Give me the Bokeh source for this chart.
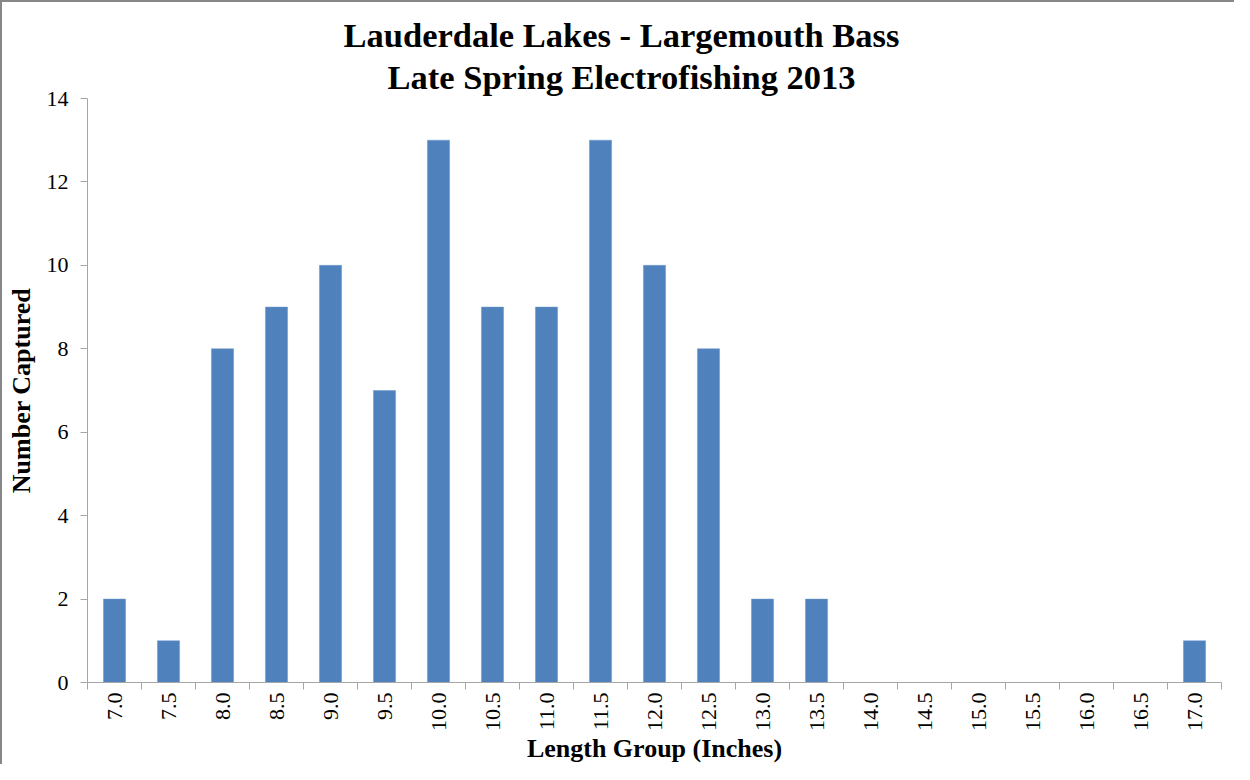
import math
from bokeh.plotting import figure
from bokeh.models import ColumnDataSource, FixedTicker, Range1d, Title
from bokeh.embed import file_html
from bokeh.resources import INLINE

# ---- data ----
length_groups = ["7.0", "7.5", "8.0", "8.5", "9.0", "9.5", "10.0", "10.5", "11.0",
                 "11.5", "12.0", "12.5", "13.0", "13.5", "14.0", "14.5", "15.0",
                 "15.5", "16.0", "16.5", "17.0"]
counts = [2, 1, 8, 9, 10, 7, 13, 9, 9, 13, 10, 8, 2, 2, 0, 0, 0, 0, 0, 0, 1]
y_ticks = [0, 2, 4, 6, 8, 10, 12, 14]
title_line1 = "Lauderdale Lakes - Largemouth Bass"
title_line2 = "Late Spring Electrofishing 2013"
x_label = "Length Group (Inches)"
y_label = "Number Captured"

FONT = "Liberation Serif"
AXIS_COLOR = "#A6A6A6"
BAR_COLOR = "#4F81BD"

FRAME_W = 1134
FRAME_H = 585
TOP = 96
LEFT = 85

n = len(length_groups)
positions = list(range(n))
src = ColumnDataSource(dict(x=positions, top=counts, label=length_groups))

p = figure(width=1234, height=764, output_backend="svg", toolbar_location=None,
           title=None,
           x_range=Range1d(-0.5, n - 0.5), y_range=Range1d(0, 14),
           min_border_left=LEFT, min_border_right=1234 - LEFT - FRAME_W,
           min_border_top=TOP, min_border_bottom=764 - TOP - FRAME_H)

p.vbar(x="x", top="top", width=0.41, source=src, fill_color=BAR_COLOR,
       line_color="#6E96C8", line_width=0.5)

# two-line title (first added sits nearest the frame); left-aligned with offsets
# so that both lines are centred on the whole chart area
p.add_layout(Title(text=title_line2, align="left", offset=300, standoff=5,
                   text_font=FONT, text_font_size="34.5px", text_font_style="bold",
                   text_color="black"), "above")
p.add_layout(Title(text=title_line1, align="left", offset=256, standoff=0,
                   text_font=FONT, text_font_size="34.5px", text_font_style="bold",
                   text_color="black"), "above")

# x axis: labels at centers, ticks at category boundaries (minor ticks)
xa = p.xaxis[0]
xa.ticker = FixedTicker(ticks=positions, minor_ticks=[i - 0.5 for i in range(n + 1)])
xa.major_label_overrides = {i: lab for i, lab in enumerate(length_groups)}
xa.major_label_orientation = math.pi / 2
xa.major_tick_line_color = None
xa.minor_tick_line_color = AXIS_COLOR
xa.minor_tick_out = 7
xa.minor_tick_in = 0
xa.axis_line_color = AXIS_COLOR
xa.major_label_text_font = FONT
xa.major_label_text_font_size = "22px"
xa.major_label_text_color = "black"
xa.major_label_standoff = 3
xa.axis_label = x_label
xa.axis_label_text_font = FONT
xa.axis_label_text_font_size = "26px"
xa.axis_label_text_font_style = "bold"
xa.axis_label_text_color = "black"
xa.axis_label_text_line_height = 1.0
xa.axis_label_standoff = 0

ya = p.yaxis[0]
ya.ticker = FixedTicker(ticks=y_ticks, minor_ticks=[])
ya.major_tick_out = 7
ya.major_tick_in = 0
ya.major_tick_line_color = AXIS_COLOR
ya.minor_tick_line_color = None
ya.axis_line_color = AXIS_COLOR
ya.major_label_text_font = FONT
ya.major_label_text_font_size = "22px"
ya.major_label_text_color = "black"
ya.major_label_standoff = 12
ya.axis_label = y_label
ya.axis_label_text_font = FONT
ya.axis_label_text_font_size = "26px"
ya.axis_label_text_font_style = "bold"
ya.axis_label_text_color = "black"
ya.axis_label_standoff = 8

p.xgrid.grid_line_color = None
p.ygrid.grid_line_color = None
p.outline_line_color = None
p.background_fill_color = "white"
p.border_fill_color = "white"
p.styles = {"border-left": "2px solid #878787", "border-top": "2px solid #878787"}

open("out.html", "w").write(file_html(p, INLINE))
